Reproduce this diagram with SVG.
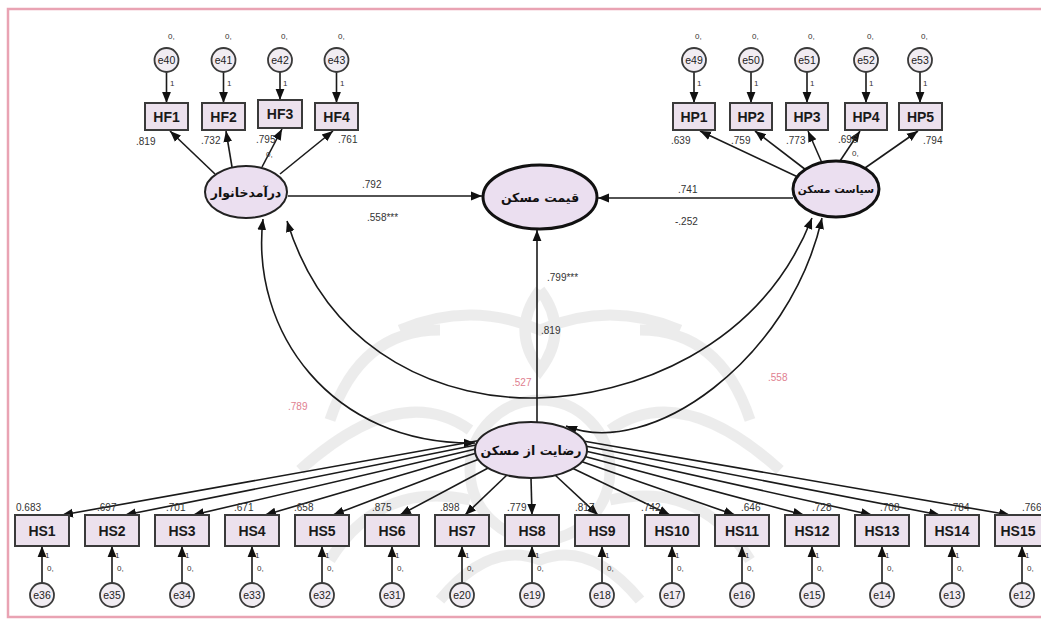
<svg xmlns="http://www.w3.org/2000/svg" width="1041" height="619" viewBox="0 0 1041 619">
<defs>
<marker id="ah" viewBox="0 0 10 10" refX="10" refY="5" markerWidth="11" markerHeight="11" markerUnits="userSpaceOnUse" orient="auto-start-reverse"><path d="M0,1 L10,5 L0,9 z" fill="#111"/></marker>
<style>
.bg{fill:#ffffff}
.frame{fill:none;stroke:#e9a3b3;stroke-width:2.5}
.wm{fill:none;stroke:#dedede;stroke-width:11}
.box{fill:#ece1ed;stroke:#3a3a3a;stroke-width:2}
.err{fill:#f1ecf2;stroke:#3a3a3a;stroke-width:1.8}
.lat{fill:#ebdff0;stroke:#222;stroke-width:2}
.latb{fill:#ebdff0;stroke:#111;stroke-width:3}
.lbl{font-family:"Liberation Sans",Arial,sans-serif;font-weight:bold;font-size:14px;fill:#1a1a1a;text-anchor:middle}
.elbl{font-family:"Liberation Sans",Arial,sans-serif;font-size:10.5px;fill:#222;text-anchor:middle}
.fa{font-family:"DejaVu Sans","Noto Sans",sans-serif;font-weight:bold;font-size:12.5px;fill:#111;text-anchor:middle}
.num{font-family:"Liberation Sans",Arial,sans-serif;font-size:10px;fill:#333;direction:ltr}
.tiny{font-family:"Liberation Sans",Arial,sans-serif;font-size:8px;fill:#333}
.pk{font-family:"Liberation Sans",Arial,sans-serif;font-size:10px;fill:#e0808f}
.ca{fill:none;stroke:#1a1a1a;stroke-width:1.6;marker-end:url(#ah)}
.cb{fill:none;stroke:#1a1a1a;stroke-width:1.6;marker-start:url(#ah);marker-end:url(#ah)}
</style>
</defs>
<rect class="bg" x="0" y="0" width="1041" height="619"/>
<rect class="frame" x="8" y="9" width="1045" height="608"/>
<g id="watermark" opacity="0.55">
<circle class="wm" cx="540" cy="470" r="70"/>
<path class="wm" d="M400,330 Q470,300 540,330 Q610,300 680,330"/>
<path class="wm" d="M330,420 Q360,330 440,330"/>
<path class="wm" d="M750,420 Q720,330 640,330"/>
<path class="wm" d="M300,470 Q400,380 470,430"/>
<path class="wm" d="M780,470 Q680,380 610,430"/>
<path class="wm" d="M330,560 Q380,480 470,500"/>
<path class="wm" d="M750,560 Q700,480 610,500"/>
<path class="wm" d="M440,600 Q490,540 540,560 Q590,540 640,600"/>
<path class="wm" d="M540,290 Q510,330 540,370 Q570,330 540,290"/>
</g>
<g id="connectors">
<line class="ca" x1="166.5" y1="72" x2="166.5" y2="103"/>
<line class="ca" x1="223.5" y1="72" x2="223.5" y2="103"/>
<line class="ca" x1="280" y1="72" x2="280" y2="100"/>
<line class="ca" x1="336.5" y1="72" x2="336.5" y2="103"/>
<line class="ca" x1="694" y1="72" x2="694" y2="103"/>
<line class="ca" x1="751" y1="72" x2="751" y2="103"/>
<line class="ca" x1="807" y1="72" x2="807" y2="103"/>
<line class="ca" x1="866" y1="72" x2="866" y2="103"/>
<line class="ca" x1="920" y1="72" x2="920" y2="103"/>
<line class="ca" x1="215" y1="174" x2="170" y2="131"/>
<line class="ca" x1="232" y1="167" x2="226" y2="131"/>
<line class="ca" x1="262" y1="167" x2="282" y2="129"/>
<line class="ca" x1="280" y1="174" x2="333" y2="131"/>
<line class="ca" x1="800" y1="178" x2="700" y2="131"/>
<line class="ca" x1="806" y1="170" x2="755" y2="131"/>
<line class="ca" x1="822" y1="163" x2="808" y2="131"/>
<line class="ca" x1="840" y1="161" x2="860" y2="131"/>
<line class="ca" x1="865" y1="168" x2="918" y2="131"/>
<line class="ca" x1="288" y1="196" x2="482" y2="196"/>
<line class="ca" x1="793" y1="198" x2="598" y2="198"/>
<line class="ca" x1="537" y1="422" x2="537" y2="230"/>
<path class="cb" d="M263,219 C250,330 330,445 475,443"/>
<path class="cb" d="M287,221 C330,360 450,400 537,398 C630,396 760,350 812,218"/>
<path class="cb" d="M822,218 C790,360 650,460 566,426"/>
<line class="ca" x1="482" y1="440" x2="62" y2="515"/>
<line class="ca" x1="481" y1="444" x2="125" y2="515"/>
<line class="ca" x1="480" y1="448" x2="193" y2="515"/>
<line class="ca" x1="480" y1="452" x2="265" y2="515"/>
<line class="ca" x1="482" y1="458" x2="333" y2="515"/>
<line class="ca" x1="490" y1="467" x2="400" y2="515"/>
<line class="ca" x1="508" y1="474" x2="465" y2="515"/>
<line class="ca" x1="531" y1="478" x2="532" y2="515"/>
<line class="ca" x1="555" y1="475" x2="598" y2="515"/>
<line class="ca" x1="572" y1="468" x2="670" y2="515"/>
<line class="ca" x1="580" y1="461" x2="735" y2="515"/>
<line class="ca" x1="583" y1="456" x2="804" y2="515"/>
<line class="ca" x1="585" y1="451" x2="872" y2="515"/>
<line class="ca" x1="585" y1="446" x2="940" y2="515"/>
<line class="ca" x1="583" y1="441" x2="1010" y2="515"/>
<line class="ca" x1="42" y1="583" x2="42" y2="546"/>
<line class="ca" x1="112" y1="583" x2="112" y2="546"/>
<line class="ca" x1="182" y1="583" x2="182" y2="546"/>
<line class="ca" x1="252" y1="583" x2="252" y2="546"/>
<line class="ca" x1="322" y1="583" x2="322" y2="546"/>
<line class="ca" x1="392" y1="583" x2="392" y2="546"/>
<line class="ca" x1="462" y1="583" x2="462" y2="546"/>
<line class="ca" x1="532" y1="583" x2="532" y2="546"/>
<line class="ca" x1="602" y1="583" x2="602" y2="546"/>
<line class="ca" x1="672" y1="583" x2="672" y2="546"/>
<line class="ca" x1="742" y1="583" x2="742" y2="546"/>
<line class="ca" x1="812" y1="583" x2="812" y2="546"/>
<line class="ca" x1="882" y1="583" x2="882" y2="546"/>
<line class="ca" x1="952" y1="583" x2="952" y2="546"/>
<line class="ca" x1="1022" y1="583" x2="1022" y2="546"/>
</g>
<g id="connector-labels">
<text class="num" x="362" y="188">.792</text>
<text class="num" x="367" y="221">.558***</text>
<text class="num" x="678" y="193">.741</text>
<text class="num" x="675" y="225">-.252</text>
<text class="num" x="547" y="281">.799***</text>
<text class="num" x="541" y="334">.819</text>
<text class="pk" x="288" y="410">.789</text>
<text class="pk" x="512" y="386">.527</text>
<text class="pk" x="768" y="381">.558</text>
<text class="num" x="136" y="145">.819</text>
<text class="num" x="201" y="144">.732</text>
<text class="num" x="256" y="143">.795</text>
<text class="num" x="338" y="143">.761</text>
<text class="tiny" x="266" y="157">0,</text>
<text class="num" x="671" y="144">.639</text>
<text class="num" x="731" y="144">.759</text>
<text class="num" x="786" y="144">.773</text>
<text class="num" x="838" y="143">.696</text>
<text class="tiny" x="852" y="156">0,</text>
<text class="num" x="923" y="144">.794</text>
<text class="num" x="16" y="511">0.683</text>
<text class="num" x="97" y="511">.697</text>
<text class="num" x="166" y="511">.701</text>
<text class="num" x="234" y="511">.671</text>
<text class="num" x="294" y="511">.658</text>
<text class="num" x="372" y="511">.875</text>
<text class="num" x="440" y="511">.898</text>
<text class="num" x="507" y="511">.779</text>
<text class="num" x="575" y="511">.817</text>
<text class="num" x="641" y="511">.742</text>
<text class="num" x="741" y="511">.646</text>
<text class="num" x="812" y="511">.728</text>
<text class="num" x="880" y="511">.708</text>
<text class="num" x="950" y="511">.784</text>
<text class="num" x="1022" y="511">.766</text>
</g>
<g id="fixed-params">
<text class="tiny" x="168" y="39">0,</text><text class="tiny" x="170" y="86">1</text>
<text class="tiny" x="225" y="39">0,</text><text class="tiny" x="227" y="86">1</text>
<text class="tiny" x="281" y="39">0,</text><text class="tiny" x="283" y="86">1</text>
<text class="tiny" x="338" y="39">0,</text><text class="tiny" x="340" y="86">1</text>
<text class="tiny" x="695" y="39">0,</text><text class="tiny" x="697" y="86">1</text>
<text class="tiny" x="752" y="39">0,</text><text class="tiny" x="754" y="86">1</text>
<text class="tiny" x="808" y="39">0,</text><text class="tiny" x="810" y="86">1</text>
<text class="tiny" x="867" y="39">0,</text><text class="tiny" x="869" y="86">1</text>
<text class="tiny" x="921" y="39">0,</text><text class="tiny" x="923" y="86">1</text>
<text class="tiny" x="45" y="558">1</text><text class="tiny" x="47" y="571">0,</text>
<text class="tiny" x="115" y="558">1</text><text class="tiny" x="117" y="571">0,</text>
<text class="tiny" x="185" y="558">1</text><text class="tiny" x="187" y="571">0,</text>
<text class="tiny" x="255" y="558">1</text><text class="tiny" x="257" y="571">0,</text>
<text class="tiny" x="325" y="558">1</text><text class="tiny" x="327" y="571">0,</text>
<text class="tiny" x="395" y="558">1</text><text class="tiny" x="397" y="571">0,</text>
<text class="tiny" x="465" y="558">1</text><text class="tiny" x="467" y="571">0,</text>
<text class="tiny" x="535" y="558">1</text><text class="tiny" x="537" y="571">0,</text>
<text class="tiny" x="605" y="558">1</text><text class="tiny" x="607" y="571">0,</text>
<text class="tiny" x="675" y="558">1</text><text class="tiny" x="677" y="571">0,</text>
<text class="tiny" x="745" y="558">1</text><text class="tiny" x="747" y="571">0,</text>
<text class="tiny" x="815" y="558">1</text><text class="tiny" x="817" y="571">0,</text>
<text class="tiny" x="885" y="558">1</text><text class="tiny" x="887" y="571">0,</text>
<text class="tiny" x="955" y="558">1</text><text class="tiny" x="957" y="571">0,</text>
<text class="tiny" x="1025" y="558">1</text><text class="tiny" x="1027" y="571">0,</text>
</g>
<g id="income"><ellipse class="lat" cx="246" cy="192" rx="41" ry="26"/><text class="fa" x="246" y="197">درآمدخانوار</text></g>
<g id="price"><ellipse class="latb" cx="540" cy="197" rx="57" ry="32"/><text class="fa" x="540" y="202">قیمت مسکن</text></g>
<g id="policy"><ellipse class="latb" cx="836" cy="189" rx="43" ry="28"/><text class="fa" x="836" y="193" style="font-size:10.5px">سیاست مسکن</text></g>
<g id="satisfaction"><ellipse class="lat" cx="531" cy="450" rx="56" ry="28"/><text class="fa" x="531" y="455">رضایت از مسکن</text></g>
<g id="e40"><circle class="err" cx="166.5" cy="60" r="12"/><text class="elbl" x="166.5" y="64">e40</text></g>
<g id="e41"><circle class="err" cx="223.5" cy="60" r="12"/><text class="elbl" x="223.5" y="64">e41</text></g>
<g id="e42"><circle class="err" cx="280" cy="60" r="12"/><text class="elbl" x="280" y="64">e42</text></g>
<g id="e43"><circle class="err" cx="336.5" cy="60" r="12"/><text class="elbl" x="336.5" y="64">e43</text></g>
<g id="HF1"><rect class="box" x="145" y="103" width="43" height="27"/><text class="lbl" x="166.5" y="122">HF1</text></g>
<g id="HF2"><rect class="box" x="202" y="103" width="43" height="27"/><text class="lbl" x="223.5" y="122">HF2</text></g>
<g id="HF3"><rect class="box" x="258" y="100" width="44" height="28"/><text class="lbl" x="280" y="119">HF3</text></g>
<g id="HF4"><rect class="box" x="315" y="103" width="43" height="27"/><text class="lbl" x="336.5" y="122">HF4</text></g>
<g id="e49"><circle class="err" cx="694" cy="60" r="12"/><text class="elbl" x="694" y="64">e49</text></g>
<g id="e50"><circle class="err" cx="751" cy="60" r="12"/><text class="elbl" x="751" y="64">e50</text></g>
<g id="e51"><circle class="err" cx="807" cy="60" r="12"/><text class="elbl" x="807" y="64">e51</text></g>
<g id="e52"><circle class="err" cx="866" cy="60" r="12"/><text class="elbl" x="866" y="64">e52</text></g>
<g id="e53"><circle class="err" cx="920" cy="60" r="12"/><text class="elbl" x="920" y="64">e53</text></g>
<g id="HP1"><rect class="box" x="673" y="103" width="42" height="27"/><text class="lbl" x="694" y="122">HP1</text></g>
<g id="HP2"><rect class="box" x="730" y="103" width="42" height="27"/><text class="lbl" x="751" y="122">HP2</text></g>
<g id="HP3"><rect class="box" x="786" y="103" width="42" height="27"/><text class="lbl" x="807" y="122">HP3</text></g>
<g id="HP4"><rect class="box" x="845" y="103" width="42" height="27"/><text class="lbl" x="866" y="122">HP4</text></g>
<g id="HP5"><rect class="box" x="899" y="103" width="43" height="27"/><text class="lbl" x="920.5" y="122">HP5</text></g>
<g id="HS1"><rect class="box" x="15" y="515" width="54" height="31"/><text class="lbl" x="42" y="536">HS1</text></g>
<g id="HS2"><rect class="box" x="85" y="515" width="54" height="31"/><text class="lbl" x="112" y="536">HS2</text></g>
<g id="HS3"><rect class="box" x="155" y="515" width="54" height="31"/><text class="lbl" x="182" y="536">HS3</text></g>
<g id="HS4"><rect class="box" x="225" y="515" width="54" height="31"/><text class="lbl" x="252" y="536">HS4</text></g>
<g id="HS5"><rect class="box" x="295" y="515" width="54" height="31"/><text class="lbl" x="322" y="536">HS5</text></g>
<g id="HS6"><rect class="box" x="365" y="515" width="54" height="31"/><text class="lbl" x="392" y="536">HS6</text></g>
<g id="HS7"><rect class="box" x="435" y="515" width="54" height="31"/><text class="lbl" x="462" y="536">HS7</text></g>
<g id="HS8"><rect class="box" x="505" y="515" width="54" height="31"/><text class="lbl" x="532" y="536">HS8</text></g>
<g id="HS9"><rect class="box" x="575" y="515" width="54" height="31"/><text class="lbl" x="602" y="536">HS9</text></g>
<g id="HS10"><rect class="box" x="645" y="515" width="54" height="31"/><text class="lbl" x="672" y="536">HS10</text></g>
<g id="HS11"><rect class="box" x="715" y="515" width="54" height="31"/><text class="lbl" x="742" y="536">HS11</text></g>
<g id="HS12"><rect class="box" x="785" y="515" width="54" height="31"/><text class="lbl" x="812" y="536">HS12</text></g>
<g id="HS13"><rect class="box" x="855" y="515" width="54" height="31"/><text class="lbl" x="882" y="536">HS13</text></g>
<g id="HS14"><rect class="box" x="925" y="515" width="54" height="31"/><text class="lbl" x="952" y="536">HS14</text></g>
<g id="HS15"><rect class="box" x="995" y="515" width="54" height="31"/><text class="lbl" x="1018" y="536">HS15</text></g>
<g id="e36"><circle class="err" cx="42" cy="595" r="12"/><text class="elbl" x="42" y="599">e36</text></g>
<g id="e35"><circle class="err" cx="112" cy="595" r="12"/><text class="elbl" x="112" y="599">e35</text></g>
<g id="e34"><circle class="err" cx="182" cy="595" r="12"/><text class="elbl" x="182" y="599">e34</text></g>
<g id="e33"><circle class="err" cx="252" cy="595" r="12"/><text class="elbl" x="252" y="599">e33</text></g>
<g id="e32"><circle class="err" cx="322" cy="595" r="12"/><text class="elbl" x="322" y="599">e32</text></g>
<g id="e31"><circle class="err" cx="392" cy="595" r="12"/><text class="elbl" x="392" y="599">e31</text></g>
<g id="e20"><circle class="err" cx="462" cy="595" r="12"/><text class="elbl" x="462" y="599">e20</text></g>
<g id="e19"><circle class="err" cx="532" cy="595" r="12"/><text class="elbl" x="532" y="599">e19</text></g>
<g id="e18"><circle class="err" cx="602" cy="595" r="12"/><text class="elbl" x="602" y="599">e18</text></g>
<g id="e17"><circle class="err" cx="672" cy="595" r="12"/><text class="elbl" x="672" y="599">e17</text></g>
<g id="e16"><circle class="err" cx="742" cy="595" r="12"/><text class="elbl" x="742" y="599">e16</text></g>
<g id="e15"><circle class="err" cx="812" cy="595" r="12"/><text class="elbl" x="812" y="599">e15</text></g>
<g id="e14"><circle class="err" cx="882" cy="595" r="12"/><text class="elbl" x="882" y="599">e14</text></g>
<g id="e13"><circle class="err" cx="952" cy="595" r="12"/><text class="elbl" x="952" y="599">e13</text></g>
<g id="e12"><circle class="err" cx="1022" cy="595" r="12"/><text class="elbl" x="1022" y="599">e12</text></g>
</svg>
